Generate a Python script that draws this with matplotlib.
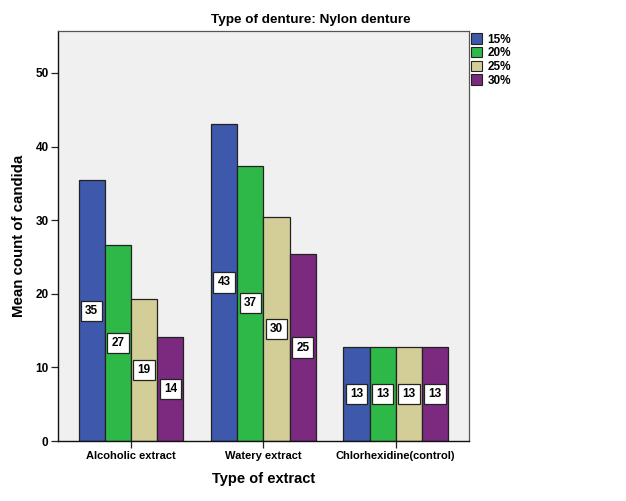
import matplotlib
matplotlib.use("Agg")
import matplotlib.pyplot as plt
import numpy as np
from matplotlib.patches import Patch

plt.rcParams['font.family'] = ['Liberation Sans', 'DejaVu Sans']

categories = ["Alcoholic extract", "Watery extract", "Chlorhexidine(control)"]
series_names = ["15%", "20%", "25%", "30%"]
values = {
    "15%": [35.4, 43.1, 12.8],
    "20%": [26.6, 37.4, 12.8],
    "25%": [19.3, 30.4, 12.8],
    "30%": [14.1, 25.4, 12.8],
}
colors = ["#3E58AC", "#2EB848", "#D3CE97", "#7B2A7F"]
yticks = [0, 10, 20, 30, 40, 50]

fig = plt.figure(figsize=(6.26, 5.01), dpi=100)
ax = fig.add_axes([58.3/626, 1-441/501, (469.3-58.3)/626, (441-31)/501])
ax.set_facecolor("#F0F0F0")

x = np.arange(len(categories))
w = 0.198
for i, name in enumerate(series_names):
    pos = x + (i - 1.5) * w
    vals = values[name]
    ax.bar(pos, vals, width=w, color=colors[i], edgecolor="#222222", linewidth=0.9, zorder=2)
    for px, v in zip(pos, vals):
        ax.text(px, v / 2, f"{round(v):d}", ha="center", va="center", fontsize=8.5,
                fontweight="bold", zorder=4,
                bbox=dict(boxstyle="square,pad=0.35", facecolor="white", edgecolor="#222222", linewidth=0.9))

ax.set_xlim(-0.55, 2.556)
ax.set_ylim(0, 55.7)
ax.set_xticks(x)
ax.set_xticklabels(categories, fontsize=8, fontweight="bold")
ax.set_yticks(yticks)
ax.set_yticklabels([str(t) for t in yticks], fontsize=8.5, fontweight="bold")
ax.tick_params(axis="both", direction="out", length=5, width=0.9, color="#222222", pad=2)
for s in ["left", "bottom"]:
    ax.spines[s].set_color("#111111")
    ax.spines[s].set_linewidth(1.0)
for s in ["top", "right"]:
    ax.spines[s].set_color("#555555")
    ax.spines[s].set_linewidth(0.9)

ax.set_ylabel("Mean count of candida", fontsize=10.8, fontweight="bold", labelpad=7)
ax.set_xlabel("Type of extract", fontsize=10.5, fontweight="bold", labelpad=8)
fig.text(311/626, 1-20/501, "Type of denture: Nylon denture", fontsize=9.7, fontweight="bold",
         ha="center", va="center")

handles = [Patch(facecolor=c, edgecolor="#222222", linewidth=0.8) for c in colors]
fig.legend(handles, series_names, loc="upper left", bbox_to_anchor=(470/626, 1-32/501),
           frameon=False, prop=dict(size=8.5, weight="bold"), handlelength=0.9, handleheight=1.0,
           handletextpad=0.5, labelspacing=0.12, borderaxespad=0, borderpad=0.1)

fig.savefig("out.png", dpi=100)
